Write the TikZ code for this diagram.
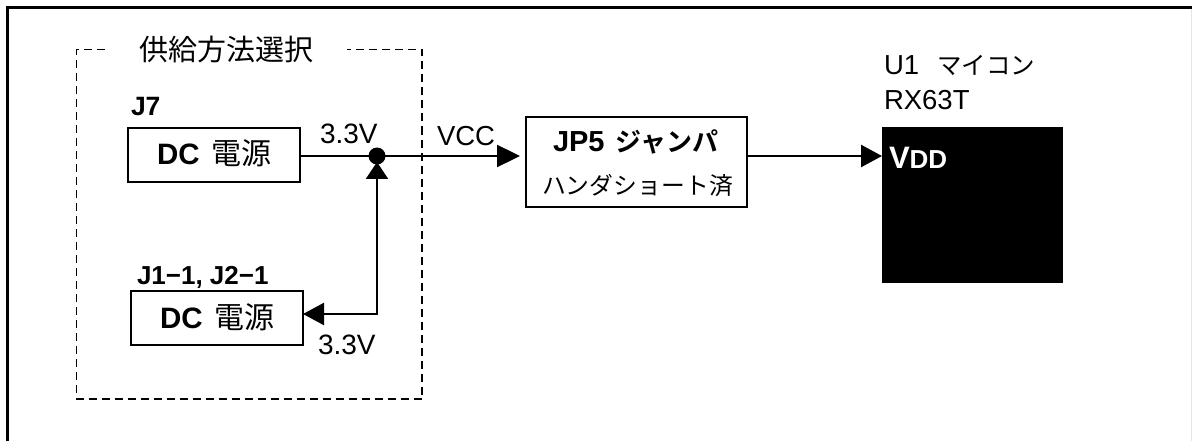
\documentclass[tikz,border=0pt]{standalone}
\usepackage{fontspec}
\setmainfont{Liberation Sans}
\newfontfamily\jp{Noto Sans CJK JP}
\newfontfamily\jpb{Noto Sans CJK JP Bold}
\usetikzlibrary{arrows.meta}
\newcommand{\fs}[1]{\fontsize{#1}{#1}\selectfont}
\tikzset{
  x=1pt,y=-1pt,
  boxnode/.style={draw=black,line width=2.4pt,fill=white,inner sep=0pt,outer sep=0pt,align=center},
  lbl/.style={inner sep=0pt,outer sep=0pt,anchor=base west,text=black},
  wire/.style={line width=2.4pt,draw=black},
  tip/.style={-{Triangle[length=#1,width=22pt]}},
  bothtip/.style={{Triangle[length=17pt,width=22pt]}-{Triangle[length=#1,width=22pt]}}
}
\begin{document}
\begin{tikzpicture}
\useasboundingbox (0,0) rectangle (1192,441);
% frame
\draw[line width=3pt,black] (7.5,441) -- (7.5,7.5) -- (1192,7.5);
\draw[line width=0.8pt,black!10] (1191.5,9) -- (1191.5,441);
% dashed group
\draw[line width=1.7pt,black,dash pattern=on 8pt off 5pt]
  (105,49.5) -- (76.5,49.5) -- (76.5,399) -- (422,399) -- (422,49.5) -- (347,49.5);
\node[lbl] (title) at (139,61) {\jp\fs{29}供給方法選択};
% boxes
\node[boxnode,minimum width=172pt,minimum height=54pt] (j7) at (214,155) {};
\node[lbl] (j7t) at (157,165) {\fs{29.5}\textbf{DC}\hspace{12pt}\jp\fs{30}電源};
\node[lbl] (j7l) at (131,116) {\fs{26.5}\textbf{J7}};
\node[boxnode,minimum width=172pt,minimum height=54pt] (j1) at (217,318) {};
\node[lbl] (j1t) at (160,328) {\fs{29.5}\textbf{DC}\hspace{12pt}\jp\fs{30}電源};
\node[lbl] (j1l) at (137,284) {\fs{26}\textbf{J1−1, J2−1}};
\node[boxnode,minimum width=221pt,minimum height=90pt] (jp5) at (636.5,162) {};
\node[lbl] (jpa) at (553,152) {\fs{29}\textbf{JP5}\hspace{11pt}\jpb\fs{26}ジャンパ};
\node[lbl] (jpb) at (542,195) {\jp\fs{23.8}ハンダショート済};
% chip
\node[fill=black,inner sep=0pt,outer sep=0pt,minimum width=181pt,minimum height=156pt] (chip) at (972.5,205) {};
\node[lbl,text=white] (vdd) at (889,169) {\fs{31}\textbf{V}\fs{26}\textbf{DD}};
\node[lbl] (u1) at (884,75) {\fs{27.5}U1\hspace{18pt}\jp\fs{24.5}マイコン};
\node[lbl] (rx) at (884,110) {\fs{27.5}RX63T};
% junction
\node[circle,fill=black,inner sep=0pt,outer sep=0pt,minimum size=17pt] (dot) at (377,156) {};
\coordinate (corner) at (377,314);
% connectors
\draw[wire] (j7.east |- dot) -- (dot.center);
\draw[wire,tip=23pt,shorten >=6pt] (dot.center) -- (dot.center -| jp5.west);
\draw[wire,tip=21pt] (jp5.east |- dot) -- (dot -| chip.west);
\draw[wire,bothtip=21pt,shorten <=6pt,line join=miter] (dot.center) -- (corner) -- (corner -| j1.east);
% voltage labels
\node[lbl] (v1) at (320,144) {\fs{28}3.3V};
\node[lbl] (v2) at (318,354) {\fs{28}3.3V};
\node[lbl] (vcc) at (437,146) {\fs{27.5}VCC};
\end{tikzpicture}
\end{document}
